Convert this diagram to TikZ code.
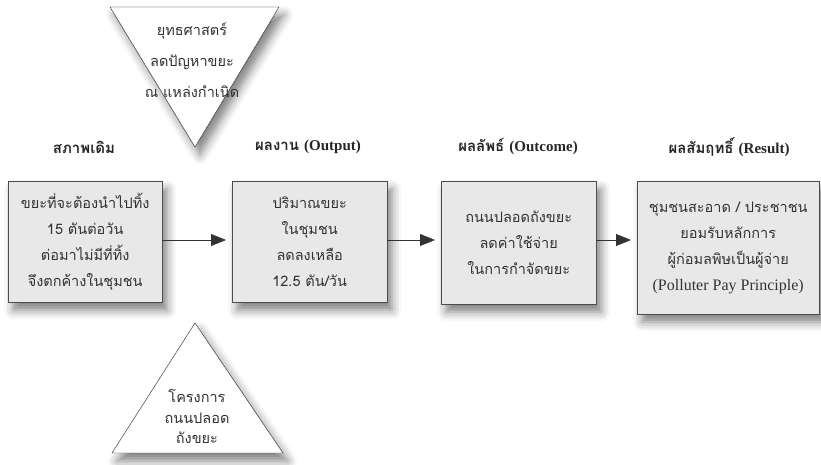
\documentclass[tikz,border=0pt]{standalone}
\usepackage{fontspec}
\setmainfont{Loma}[Script=Thai]
\newfontfamily\latinserif{Liberation Serif}
\usetikzlibrary{arrows.meta,shadows.blur}
\tikzstyle{softshadow} = [blur shadow={shadow xshift=5pt, shadow yshift=-8pt, shadow blur radius=9pt, shadow opacity=50}]
\tikzstyle{stepbox} = [draw=black!70, thin, rectangle, anchor=north west, fill=black!9, align=center, text=black!80, font=\fontsize{14.5}{26}\selectfont, softshadow]
\tikzstyle{headtext} = [text=black!85, font=\fontsize{15}{18}\selectfont\bfseries]
\tikzstyle{tritext} = [align=center, text=black!80, font=\fontsize{14.5}{31}\selectfont]
\tikzstyle{flow} = [draw=black!80, thin, -{Triangle[length=15pt,width=12pt]}, shorten >=6pt]

\begin{document}
\begin{tikzpicture}[x=1pt,y=-1pt]
\useasboundingbox (0,0) rectangle (821,465);
% triangles
\draw[black!85, fill=white, softshadow] (110,7) -- (279,7) -- (195,147) -- cycle;
\draw[black!85, fill=white, softshadow] (195,323) -- (283,453) -- (112,453) -- cycle;
\node [tritext] (strategy) at (192,60) {ยุทธศาสตร์\\ลดปัญหาขยะ\\ณ แหล่งกำเนิด};
\node [tritext, font=\fontsize{14.5}{20.5}\selectfont] (project) at (197,417) {โครงการ\\ถนนปลอด\\ถังขยะ};
% headings
\node [headtext] (head1) at (84,147) {สภาพเดิม};
\node [headtext] (head2) at (308,147) {ผลงาน {\latinserif(Output)}};
\node [headtext] (head3) at (518,147) {ผลลัพธ์ {\latinserif(Outcome)}};
\node [headtext] (head4) at (729,147) {ผลสัมฤทธิ์ {\latinserif(Result)}};
% boxes
\node [stepbox, minimum width=154pt, minimum height=121pt] (before) at (8,181)
    {ขยะที่จะต้องนำไปทิ้ง\\15 ตันต่อวัน\\ต่อมาไม่มีที่ทิ้ง\\จึงตกค้างในชุมชน};
\node [stepbox, minimum width=155pt, minimum height=121pt] (output) at (232,181)
    {ปริมาณขยะ\\ในชุมชน\\ลดลงเหลือ\\12.5 ตัน/วัน};
\node [stepbox, minimum width=155pt, minimum height=123pt] (outcome) at (441,181)
    {ถนนปลอดถังขยะ\\ลดค่าใช้จ่าย\\ในการกำจัดขยะ};
\node [stepbox, minimum width=182pt, minimum height=133pt] (result) at (637,181)
    {ชุมชนสะอาด / ประชาชน\\ยอมรับหลักการ\\ผู้ก่อมลพิษเป็นผู้จ่าย\\{\latinserif\fontsize{16}{26}\selectfont(Polluter Pay Principle)}};
% arrows
\draw [flow] (before.east |- 0,240) -- (output.west |- 0,240);
\draw [flow] (output.east |- 0,240) -- (outcome.west |- 0,240);
\draw [flow] (outcome.east |- 0,240) -- (result.west |- 0,240);
\end{tikzpicture}
\end{document}
